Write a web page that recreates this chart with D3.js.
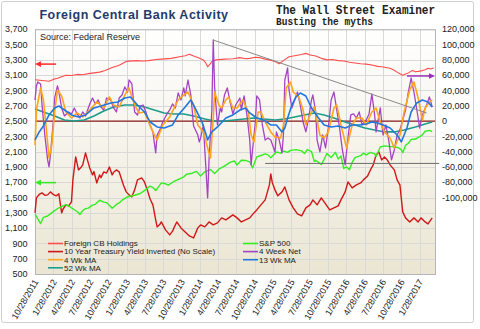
<!DOCTYPE html>
<html>
<head>
<meta charset="utf-8">
<script src="https://cdn.jsdelivr.net/npm/d3@7"></script>
<style>
  body { margin: 0; background: #fff; }
  svg { display: block; font-family: "Liberation Sans", Arial, sans-serif; }
</style>
</head>
<body>
<div id="chart"></div>
<script>
// Quarterly date labels on the x axis
const tickLabels = ['10/28/2011', '1/28/2012', '4/28/2012', '7/28/2012', '10/28/2012', '1/28/2013',
  '4/28/2013', '7/28/2013', '10/28/2013', '1/28/2014', '4/28/2014', '7/28/2014', '10/28/2014',
  '1/28/2015', '4/28/2015', '7/28/2015', '10/28/2015', '1/28/2016', '4/28/2016', '7/28/2016',
  '10/28/2016', '1/28/2017'];
const leftTicks = [3700, 3500, 3300, 3100, 2900, 2700, 2500, 2300, 2100, 1900, 1700, 1500, 1300, 1100, 900, 700, 500];
const rightTicks = [120000, 100000, 80000, 60000, 40000, 20000, 0, -20000, -40000, -60000, -80000, -100000];

// Series are [weeks since 10/28/2011, value]
// Left axis: Foreign CB Holdings ($bn), S&P 500, 10yr yield (inverted, unscaled)
const foreignCB = [[0,3040],[5,3030],[10,3020],[13,3045],[16,3060],[22,3100],[26,3095],[30,3110],[34,3105],[38,3120],[46,3140],[50,3160],[55,3200],[60,3230],[65,3280],[72,3290],[77,3285],[81,3290],[86,3305],[90,3310],[97,3320],[103,3340],[107,3355],[110,3375],[113,3350],[116,3330],[120,3300],[122,3250],[123,3210],[125,3250],[126,3280],[129,3300],[135,3310],[141,3315],[146,3330],[150,3315],[153,3320],[157,3335],[160,3330],[164,3310],[167,3300],[171,3280],[174,3250],[177,3290],[181,3340],[184,3350],[187,3360],[190,3370],[193,3385],[196,3365],[200,3350],[204,3320],[208,3300],[212,3305],[216,3290],[220,3285],[224,3270],[228,3260],[232,3250],[236,3245],[241,3230],[244,3215],[247,3210],[250,3200],[253,3190],[256,3165],[258,3140],[260,3120],[262,3100],[264,3115],[266,3130],[269,3160],[271,3145],[273,3150],[276,3160],[278,3170],[280,3190],[282,3180],[284,3195]];

const treasuryInv = [[0,1299],[1,1495],[3,1540],[5,1561],[7,1530],[9,1535],[11,1574],[13,1540],[15,1522],[17,1548],[19,1299],[20,1350],[22,1404],[24,1390],[26,1443],[27,1731],[29,2031],[31,1861],[33,1900],[34,1927],[36,2083],[38,1950],[39,1887],[41,1796],[42,1840],[44,1691],[46,1796],[47,1760],[49,1835],[51,1820],[53,1900],[55,1796],[56,1830],[58,1861],[60,1835],[63,1665],[65,1574],[67,1535],[69,1509],[71,1600],[73,1731],[76,1757],[78,1704],[80,1600],[82,1480],[84,1404],[86,1207],[87,1116],[89,1150],[90,1181],[93,1077],[96,1011],[98,1060],[99,1103],[101,1181],[104,1103],[107,1050],[110,998],[113,972],[116,1103],[118,1142],[121,1116],[124,1181],[127,1142],[130,1168],[133,1234],[136,1207],[138,1234],[141,1273],[144,1234],[147,1181],[150,1207],[153,1234],[156,1299],[158,1338],[161,1404],[164,1469],[167,1665],[168,1809],[169,1700],[171,1600],[173,1522],[176,1574],[178,1639],[181,1469],[184,1365],[187,1286],[190,1260],[193,1365],[196,1404],[198,1469],[201,1404],[204,1495],[207,1417],[210,1338],[213,1365],[216,1391],[218,1469],[221,1574],[223,1704],[226,1626],[229,1665],[232,1691],[234,1731],[237,1783],[239,1861],[241,1927],[243,2057],[245,2096],[247,1992],[249,2031],[251,1992],[253,1927],[256,1861],[258,1731],[260,1665],[262,1312],[264,1234],[267,1181],[270,1234],[273,1181],[275,1234],[278,1181],[280,1155],[283,1234]];

const sp500 = [[0,1285],[2,1220],[4,1160],[6,1240],[9,1258],[13,1316],[17,1366],[22,1408],[25,1378],[28,1340],[30,1317],[32,1278],[34,1330],[36,1355],[38,1362],[41,1400],[43,1411],[46,1466],[49,1440],[51,1433],[53,1400],[55,1359],[58,1410],[60,1430],[62,1466],[65,1500],[68,1520],[71,1530],[75,1553],[78,1590],[82,1650],[84,1630],[86,1592],[88,1640],[90,1692],[93,1680],[95,1663],[99,1710],[103,1745],[106,1770],[108,1804],[112,1818],[115,1842],[118,1782],[121,1836],[125,1866],[128,1815],[131,1870],[134,1900],[139,1960],[142,1978],[144,1925],[147,1988],[150,1985],[153,1967],[155,1886],[158,2031],[161,2050],[164,2070],[166,2058],[168,2019],[172,2096],[175,2080],[177,2108],[180,2090],[182,2117],[186,2126],[190,2110],[192,2076],[194,2126],[197,2100],[199,1971],[200,1988],[202,1960],[204,1931],[206,2000],[208,2075],[211,2023],[214,2091],[216,2005],[218,2044],[220,1880],[222,1900],[224,1864],[226,1960],[228,2022],[232,2047],[234,2080],[236,2057],[239,2090],[242,2071],[243,2037],[246,2161],[249,2175],[252,2169],[256,2164],[259,2150],[261,2126],[262,2085],[264,2182],[266,2210],[268,2258],[271,2265],[274,2295],[276,2320],[278,2367],[281,2378],[283,2363]];

// Right axis: weekly flows in $m
const net4Wk = [[0,27600],[1,45900],[2,51100],[4,48500],[5,21000],[7,-18200],[9,-50800],[10,-60000],[11,-44600],[13,-1200],[14,30200],[16,45900],[17,38000],[19,17100],[21,6700],[24,11900],[26,9300],[28,17100],[30,9300],[32,4000],[34,11900],[36,6700],[39,22400],[41,30200],[43,22400],[45,27600],[47,18400],[49,14500],[51,30200],[54,27600],[56,17100],[58,11900],[60,30200],[62,34100],[64,44600],[66,38000],[67,53700],[69,48500],[71,11900],[73,8000],[75,19700],[77,21000],[79,11900],[81,-1200],[84,-14200],[86,-41700],[87,-18200],[89,-11600],[91,-1200],[94,9300],[96,14500],[98,22400],[100,17100],[102,36700],[104,27600],[106,43300],[107,32800],[109,53700],[111,34100],[112,14500],[113,-6400],[116,-18200],[117,-27300],[118,-22100],[120,-5100],[121,-37800],[123,-100500],[124,-50800],[126,14500],[127,106000],[128,43300],[130,-5100],[132,17100],[133,11900],[135,34100],[137,43300],[139,25000],[141,9300],[143,21000],[146,30200],[147,14500],[149,32800],[151,8000],[153,-24800],[154,-57400],[155,-37800],[157,-1200],[158,32800],[160,27600],[162,-5100],[164,-24800],[166,-22100],[168,-24800],[171,-40400],[172,-14200],[174,-24800],[176,-41700],[177,-18200],[178,53700],[180,69400],[181,40700],[183,17100],[185,27600],[187,38000],[189,21000],[191,-1200],[193,-14200],[195,4000],[197,27600],[198,34100],[200,11900],[201,-24800],[203,-40400],[205,-18200],[207,-35200],[209,-9100],[211,27600],[213,38000],[215,14500],[217,-9100],[219,-37800],[221,-57400],[223,-22100],[225,8000],[227,9300],[229,4000],[231,11900],[233,-5100],[236,1400],[238,9300],[240,35400],[242,8000],[243,-14200],[246,17100],[248,-18200],[250,-5100],[252,-24800],[254,-50800],[256,-37800],[258,-18200],[260,-11600],[262,1400],[264,14500],[266,38000],[268,56300],[270,38000],[273,4000],[274,-9100],[276,8000],[279,21000],[281,31500],[283,18400]];

const ma4Wk = [[0,-31200],[1,14500],[4,43300],[6,27600],[8,-9100],[10,-48200],[12,-31200],[14,11900],[16,40700],[19,32800],[22,11900],[26,4000],[30,10600],[34,5400],[39,14500],[44,25000],[49,17100],[53,31500],[56,21000],[60,18400],[64,34100],[67,43300],[71,21000],[74,10600],[78,11900],[81,-1200],[85,-18200],[87,-24800],[91,-5100],[96,5400],[102,27600],[106,34100],[109,38000],[113,21000],[116,-5100],[120,-14200],[123,-35200],[125,-48200],[127,4000],[128,38000],[131,21000],[133,17100],[136,27600],[138,31500],[141,17100],[144,17100],[148,27600],[152,11900],[154,-18200],[156,-27300],[159,11900],[161,11900],[164,-1200],[168,-14200],[171,-20800],[175,-22100],[177,-5100],[179,43300],[182,51100],[184,38000],[188,31500],[191,14500],[193,-5100],[197,11900],[199,18400],[203,-18200],[206,-22100],[209,-14200],[213,17100],[215,21000],[218,-5100],[222,-35200],[226,-5100],[229,4000],[233,4000],[236,-5100],[240,11900],[243,17100],[246,-1200],[249,-14200],[253,-22100],[256,-35200],[260,-18200],[263,11900],[267,40700],[270,51100],[273,30200],[276,1400],[278,17100],[281,25000],[283,27600]];

const ma13Wk = [[0,-24700],[3,-14200],[6,-6400],[10,8000],[14,17100],[17,19700],[21,14500],[26,8000],[31,5400],[36,8000],[42,17100],[47,19700],[54,23700],[59,25000],[64,30200],[68,31500],[73,21000],[78,11900],[82,-1200],[87,-7700],[92,-9000],[98,-5100],[102,8000],[107,18400],[111,27600],[114,17100],[119,-1200],[122,-18200],[123,-24700],[126,-14200],[130,-7700],[136,4000],[141,8000],[146,14500],[150,17100],[153,10600],[158,4000],[163,1400],[168,-5100],[172,-5100],[176,-14200],[178,-9000],[180,4000],[183,21000],[186,31500],[189,36700],[193,32800],[197,17100],[202,4000],[206,-5100],[211,-7700],[216,-6400],[221,-9000],[226,-5100],[231,-5100],[236,-3900],[240,-1200],[244,-2500],[248,-5100],[253,-9000],[258,-18200],[261,-27300],[265,-9000],[268,11900],[272,23700],[276,27600],[280,25000],[283,18400]];

const ma52Wk = [[0,15800],[6,11900],[14,6700],[21,1400],[28,100],[35,1400],[42,6700],[49,13200],[56,18400],[64,21000],[71,21000],[78,18400],[85,14500],[92,10600],[99,9300],[106,9300],[113,6700],[121,2700],[128,100],[135,100],[142,1400],[149,2700],[156,4000],[163,2700],[171,1400],[178,2700],[185,5400],[192,8000],[199,10600],[206,8000],[213,4000],[221,-1200],[228,-5100],[235,-9000],[242,-11600],[249,-14200],[256,-14200],[263,-11600],[271,-7700],[278,-3800],[283,-1200]];

// Annotations: arrows marking which axis a series belongs to, trend line and support line
const cbArrow = [[15, 3245], [0, 3245]];
const spArrow = [[15, 1695], [0, 1695]];
const netArrow = [[265, 59000], [285, 59000]];
const trendLine = [[127, 106000], [279, 10600]];
const supportLine = [[164, -55400], [288, -55400]];

const width = 480;
const height = 329;
const plot = { left: 35, right: 435, top: 29.3, bottom: 274 };

const parseDate = d3.timeParse('%m/%d/%Y');
const startDate = parseDate(tickLabels[0]);
const weekDate = w => d3.timeDay.offset(startDate, w * 7);

const xScale = d3.scaleTime()
  .domain([startDate, parseDate('4/14/2017')])
  .range([plot.left, plot.right]);
const yLeft = d3.scaleLinear().domain([500, 3700]).range([plot.bottom, plot.top]);
const yRight = d3.scaleLinear().domain([-200000, 120000]).range([plot.bottom, plot.top]);

const fmt = d3.formatLocale({ decimal: '.', thousands: ',', grouping: [3], currency: ['$', ''], minus: '-' }).format(',');

const svg = d3.select('#chart').append('svg')
  .attr('width', width)
  .attr('height', height);

const defs = svg.append('defs');
const grad = defs.append('linearGradient')
  .attr('id', 'bg').attr('x1', 0).attr('y1', 0).attr('x2', 0).attr('y2', 1);
grad.append('stop').attr('offset', '0%').attr('stop-color', '#ffffff');
grad.append('stop').attr('offset', '100%').attr('stop-color', '#ebe6d3');

// outer frame
svg.append('rect')
  .attr('x', 1.5).attr('y', 1.5).attr('width', 472).attr('height', 321)
  .attr('rx', 2).attr('fill', '#fff').attr('stroke', '#cfcfcf');

svg.append('rect')
  .attr('x', plot.left).attr('y', plot.top)
  .attr('width', plot.right - plot.left).attr('height', plot.bottom - plot.top)
  .attr('fill', 'url(#bg)');

// gridlines
svg.append('g').selectAll('line')
  .data(leftTicks)
  .join('line')
  .attr('x1', plot.left).attr('x2', plot.right)
  .attr('y1', d => Math.round(yLeft(d)) + 0.5).attr('y2', d => Math.round(yLeft(d)) + 0.5)
  .attr('stroke', '#d9d9d9');

const tickDates = tickLabels.map(parseDate);
svg.append('g').selectAll('line')
  .data(tickDates)
  .join('line')
  .attr('x1', d => Math.round(xScale(d)) + 0.5).attr('x2', d => Math.round(xScale(d)) + 0.5)
  .attr('y1', plot.top).attr('y2', plot.bottom)
  .attr('stroke', '#d9d9d9');

svg.append('rect')
  .attr('x', plot.left + 0.5).attr('y', plot.top + 0.5)
  .attr('width', plot.right - plot.left).attr('height', plot.bottom - plot.top)
  .attr('fill', 'none').attr('stroke', '#b5b5b5');

// axis labels
svg.append('g').selectAll('text')
  .data(leftTicks)
  .join('text')
  .attr('x', 27.5).attr('y', d => yLeft(d)).attr('dy', '0.35em')
  .attr('text-anchor', 'end').attr('font-size', 9).attr('fill', '#222')
  .text(d => fmt(d));

svg.append('g').selectAll('text')
  .data(rightTicks)
  .join('text')
  .attr('x', 442).attr('y', d => yRight(d)).attr('dy', '0.35em')
  .attr('font-size', 9).attr('fill', '#222')
  .text(d => fmt(d));

svg.append('g').selectAll('text')
  .data(tickDates)
  .join('text')
  .attr('transform', d => `translate(${xScale(d) + 1},${plot.bottom + 6}) rotate(-60)`)
  .attr('text-anchor', 'end').attr('dy', '0.35em')
  .attr('font-size', 9).attr('fill', '#222')
  .text((d, i) => tickLabels[i]);

// lines
const leftLine = d3.line().x(d => xScale(weekDate(d[0]))).y(d => yLeft(d[1]));
const rightLine = d3.line().x(d => xScale(weekDate(d[0]))).y(d => yRight(d[1]));

const lines = svg.append('g').attr('fill', 'none').attr('stroke-linejoin', 'round');

lines.append('line')
  .attr('x1', plot.left).attr('x2', plot.right)
  .attr('y1', yRight(0)).attr('y2', yRight(0))
  .attr('stroke', '#8b1c1c').attr('stroke-width', 1.2);

lines.append('path').attr('d', leftLine(foreignCB)).attr('stroke', '#ff4d4d').attr('stroke-width', 1.1);
lines.append('path').attr('d', leftLine(treasuryInv)).attr('stroke', '#d01818').attr('stroke-width', 1.4);
lines.append('path').attr('d', leftLine(sp500)).attr('stroke', '#33ee22').attr('stroke-width', 1.4);
lines.append('path').attr('d', rightLine(ma52Wk)).attr('stroke', '#1f9c8c').attr('stroke-width', 1.6);
lines.append('path').attr('d', rightLine(net4Wk)).attr('stroke', '#a444c4').attr('stroke-width', 1.3);
lines.append('path').attr('d', rightLine(ma4Wk)).attr('stroke', '#ffa41c').attr('stroke-width', 1.6);
lines.append('path').attr('d', rightLine(ma13Wk)).attr('stroke', '#2277dd').attr('stroke-width', 1.6);

lines.append('path').attr('d', rightLine(trendLine)).attr('stroke', '#8a8a8a').attr('stroke-width', 1);
lines.append('path').attr('d', rightLine(supportLine)).attr('stroke', '#6e6e6e').attr('stroke-width', 1);

// axis arrows
function arrow(pts, lineGen, color) {
  const p = pts.map(d => [xScale(weekDate(d[0])), lineGen === 'left' ? yLeft(d[1]) : yRight(d[1])]);
  const dir = Math.sign(p[1][0] - p[0][0]);
  svg.append('line')
    .attr('x1', p[0][0]).attr('y1', p[0][1])
    .attr('x2', p[1][0] - dir * 4).attr('y2', p[1][1])
    .attr('stroke', color).attr('stroke-width', 1.5);
  const tx = p[1][0], ty = p[1][1];
  svg.append('path')
    .attr('d', `M${tx},${ty} L${tx - dir * 6},${ty - 2.8} L${tx - dir * 6},${ty + 2.8} Z`)
    .attr('fill', color);
}
arrow(cbArrow, 'left', '#ff2a2a');
arrow(spArrow, 'left', '#33e822');
arrow(netArrow, 'right', '#9c2fb8');

// titles
svg.append('text')
  .attr('x', 134).attr('y', 18.5).attr('text-anchor', 'middle')
  .attr('font-size', 12.5).attr('font-weight', 'bold').attr('letter-spacing', 0.5)
  .attr('fill', '#1f3a6b')
  .text('Foreign Central Bank Activity');

svg.append('text')
  .attr('x', 276).attr('y', 13.5)
  .attr('font-family', '"Liberation Mono", "DejaVu Sans Mono", monospace')
  .attr('font-size', 12).attr('font-weight', 'bold').attr('fill', '#222')
  .attr('textLength', 159).attr('lengthAdjust', 'spacingAndGlyphs')
  .text('The Wall Street Examiner');
svg.append('text')
  .attr('x', 276).attr('y', 25)
  .attr('font-family', '"Liberation Mono", "DejaVu Sans Mono", monospace')
  .attr('font-size', 11).attr('font-weight', 'bold').attr('fill', '#222')
  .attr('textLength', 97).attr('lengthAdjust', 'spacingAndGlyphs')
  .text('Busting the myths');

svg.append('text')
  .attr('x', 40).attr('y', 39.5)
  .attr('font-size', 9).attr('fill', '#222')
  .text('Source: Federal Reserve');

// legend
const legendItems = [
  { name: 'Foreign CB Holdings', color: '#ff4d4d', col: 0, row: 0 },
  { name: '10 Year Treasury Yield Inverted (No Scale)', color: '#d01818', col: 0, row: 1 },
  { name: '4 Wk MA', color: '#ffa41c', col: 0, row: 2 },
  { name: '52 Wk MA', color: '#1f9c8c', col: 0, row: 3 },
  { name: 'S&P 500', color: '#33ee22', col: 1, row: 0 },
  { name: '4 Week Net', color: '#a444c4', col: 1, row: 1 },
  { name: '13 Wk MA', color: '#2277dd', col: 1, row: 2 }
];
const legendX = [48, 243];
const legend = svg.append('g')
  .selectAll('g')
  .data(legendItems)
  .join('g')
  .attr('transform', d => `translate(${legendX[d.col]},${243.5 + d.row * 8.1})`);
legend.append('line')
  .attr('x1', 0).attr('x2', 15).attr('y1', 0).attr('y2', 0)
  .attr('stroke', d => d.color).attr('stroke-width', 1.6);
legend.append('text')
  .attr('x', 16).attr('dy', '0.35em')
  .attr('font-size', 8).attr('fill', '#222')
  .text(d => d.name);
</script>
</body>
</html>
